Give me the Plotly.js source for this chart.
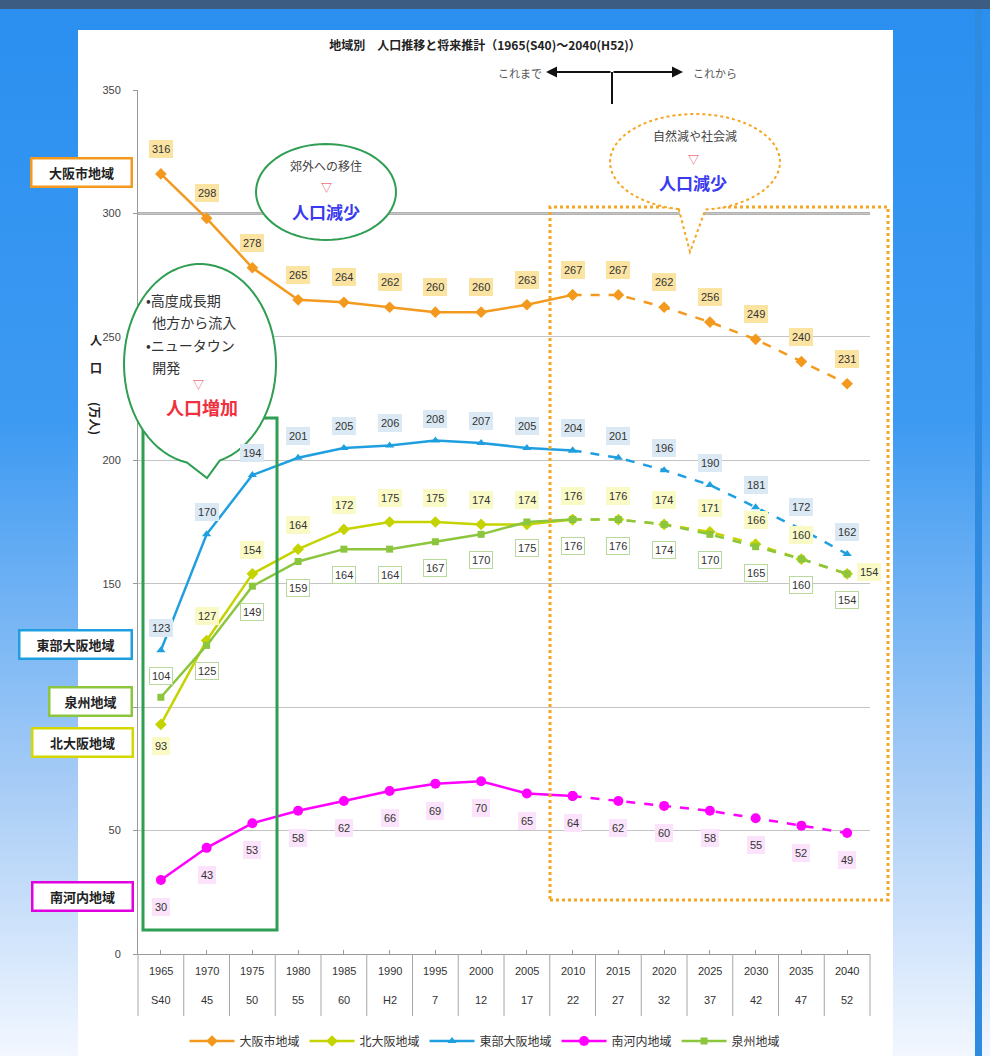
<!DOCTYPE html>
<html>
<head>
<meta charset="utf-8">
<script src="https://cdn.plot.ly/plotly-3.0.1.min.js"></script>
<style>
body{margin:0;}
#wrap{position:relative;width:990px;height:1056px;overflow:hidden;background:linear-gradient(#2a8ff0 0%,#3d9af2 40%,#a9cdf6 75%,#f2f7ff 100%);}
</style>
</head>
<body>
<div id="wrap">
  <div style="position:absolute;left:0;top:0;width:990px;height:9px;background:#3d5c82"></div>
  <div style="position:absolute;left:78px;top:30px;width:815px;height:1026px;background:#fff"></div>
  <div style="position:absolute;left:975px;top:9px;width:7px;height:1047px;background:#2f8be0"></div>
  <div id="chart" style="position:absolute;left:0;top:0;width:990px;height:1056px"></div>
</div>
<script>
// ---- data ----
const years = ['1965','1970','1975','1980','1985','1990','1995','2000','2005','2010','2015','2020','2025','2030','2035','2040'];
const eras  = ['S40','45','50','55','60','H2','7','12','17','22','27','32','37','42','47','52'];
const seriesNames = ['大阪市地域','北大阪地域','東部大阪地域','南河内地域','泉州地域'];
const osakaCity     = [316,298,278,265,264,262,260,260,263,267,267,262,256,249,240,231];
const kitaOsaka     = [93,127,154,164,172,175,175,174,174,176,176,174,171,166,160,154];
const tobuOsaka     = [123,170,194,201,205,206,208,207,205,204,201,196,190,181,172,162];
const minamiKawachi = [30,43,53,58,62,66,69,70,65,64,62,60,58,55,52,49];
const senshu        = [104,125,149,159,164,164,167,170,175,176,176,174,170,165,160,154];
const yTickVals = [0, 50, 100, 150, 200, 250, 300, 350];
const yTickText = ['0', '50', '', '150', '200', '250', '300', '350']; // 100 is hidden behind the region boxes
const projStart = 9; // 2010: from here projection (dashed)

// ---- geometry helpers (pixel -> paper) ----
const L = 138, R = 870, T = 90, B = 954;
const px = x => (x - L) / (R - L);
const py = y => (B - y) / (B - T);

const FONT_JP = 'Noto Sans CJK JP, sans-serif';
const FONT_NUM = 'Liberation Sans Narrow, Liberation Sans, sans-serif';

const idx = years.map((_, i) => i);

const styles = [
  {data: osakaCity,     color: '#f39a1e', symbol: 'diamond',     size: 9,  lab: {bg: '#fbe3a2', border: '#fbe3a2', dy: 25}},
  {data: kitaOsaka,     color: '#c5d300', symbol: 'diamond',     size: 9,  lab: {bg: '#fafac6', border: '#fafac6', dy: 24}},
  {data: tobuOsaka,     color: '#1f9fe0', symbol: 'triangle-up', size: 8,  lab: {bg: '#dbe9f4', border: '#dbe9f4', dy: 22}},
  {data: minamiKawachi, color: '#ff00ff', symbol: 'circle',      size: 10, lab: {bg: '#fbe3fb', border: '#fbe3fb', dy: -27}},
  {data: senshu,        color: '#8cc63f', symbol: 'square',      size: 7,  lab: {bg: '#ffffff', border: '#b9d89b', dy: -26}}
];

const traces = [];
styles.forEach((s, k) => {
  traces.push({
    x: idx.slice(0, projStart + 1), y: s.data.slice(0, projStart + 1),
    type: 'scatter', mode: 'lines+markers', name: seriesNames[k], legendgroup: 'g' + k,
    line: {color: s.color, width: 2.5},
    marker: {color: s.color, symbol: s.symbol, size: s.size},
    cliponaxis: false
  });
  traces.push({
    x: idx.slice(projStart), y: s.data.slice(projStart),
    type: 'scatter', mode: 'lines+markers', name: seriesNames[k], legendgroup: 'g' + k, showlegend: false,
    line: {color: s.color, width: 2.5, dash: 'dash'},
    marker: {color: s.color, symbol: s.symbol, size: s.size},
    cliponaxis: false
  });
});

const annotations = [];
// data labels
styles.forEach((s, k) => {
  s.data.forEach((v, i) => {
    let dy = s.lab.dy, dx = 0;
    if (k === 1 && i === 0) dy = -22;           // 北大阪 1965 below
    if (k === 1 && i === 15) { dy = 2; dx = 22; } // 北大阪 2040 right
    if (k === 4 && i === 0) dy = 21;            // 泉州 1965 above
    annotations.push({
      x: i, y: v, xref: 'x', yref: 'y', text: String(v), showarrow: false,
      xshift: dx, yshift: dy, xanchor: 'center', yanchor: 'middle',
      font: {family: FONT_NUM, size: 11, color: '#333'},
      bgcolor: s.lab.bg, bordercolor: s.lab.border, borderwidth: 1, borderpad: 2
    });
  });
});

// x tick labels (two rows)
years.forEach((y, i) => {
  annotations.push({x: i, y: py(971), xref: 'x', yref: 'paper', text: y, showarrow: false,
    xanchor: 'center', yanchor: 'middle', font: {family: FONT_NUM, size: 11, color: '#333'}});
  annotations.push({x: i, y: py(1000), xref: 'x', yref: 'paper', text: eras[i], showarrow: false,
    xanchor: 'center', yanchor: 'middle', font: {family: FONT_NUM, size: 11, color: '#333'}});
});

// region label boxes on left
const regionBoxes = [
  {name: seriesNames[0], cx: 81, cy: 172, w: 96,  color: '#f39a1e'},
  {name: seriesNames[2], cx: 75, cy: 644, w: 108, color: '#1f9fe0'},
  {name: seriesNames[4], cx: 90, cy: 701, w: 78,  color: '#8cc63f'},
  {name: seriesNames[1], cx: 82, cy: 742, w: 96,  color: '#d4d800'},
  {name: seriesNames[3], cx: 82, cy: 896, w: 96,  color: '#e000e0'}
];
regionBoxes.forEach(b => {
  annotations.push({x: px(b.cx), y: py(b.cy), xref: 'paper', yref: 'paper', text: '<b>' + b.name + '</b>',
    xanchor: 'center', yanchor: 'middle',
    showarrow: false, width: b.w, height: 24, bgcolor: '#ffffff', bordercolor: b.color, borderwidth: 2.5, borderpad: 1,
    font: {family: FONT_JP, size: 13, color: '#222'}});
});

// axis title
const axT = (y, t, ang) => annotations.push({x: px(96), y: py(y), xref: 'paper', yref: 'paper', text: '<b>' + t + '</b>',
  xanchor: 'center', yanchor: 'middle',
  textangle: ang || 0, showarrow: false, font: {family: FONT_JP, size: 12, color: '#222'}});
axT(339, '人');
axT(367, '口');
axT(418, '(万人)', 90);

// これまで / これから
annotations.push({x: px(520), y: py(73), xref: 'paper', yref: 'paper', text: 'これまで', showarrow: false,
  xanchor: 'center', yanchor: 'middle', font: {family: FONT_JP, size: 11, color: '#555'}});
annotations.push({x: px(715), y: py(73), xref: 'paper', yref: 'paper', text: 'これから', showarrow: false,
  xanchor: 'center', yanchor: 'middle', font: {family: FONT_JP, size: 11, color: '#555'}});
annotations.push({x: px(683), y: py(72), xref: 'paper', yref: 'paper', ax: -71, ay: 0, text: '', showarrow: true,
  arrowhead: 2, arrowsize: 1.1, arrowwidth: 2, arrowcolor: '#111'});
annotations.push({x: px(546), y: py(72), xref: 'paper', yref: 'paper', ax: 66, ay: 0, text: '', showarrow: true,
  arrowhead: 2, arrowsize: 1.1, arrowwidth: 2, arrowcolor: '#111'});

// callout texts
const callTxt = (x, y, t, size, color, bold, align) => annotations.push({x: px(x), y: py(y), xref: 'paper', yref: 'paper',
  text: bold ? '<b>' + t + '</b>' : t, showarrow: false, align: align || 'center', xanchor: align === 'left' ? 'left' : 'center',
  yanchor: 'middle', font: {family: FONT_JP, size: size, color: color}});
callTxt(326, 166, '郊外への移住', 12, '#444');
callTxt(326, 187, '▽', 11, '#e8304a');
callTxt(326, 211, '人口減少', 17, '#3a3af0', true);
callTxt(695, 135, '自然減や社会減', 12, '#444');
callTxt(693, 159, '▽', 11, '#e8304a');
callTxt(693, 182, '人口減少', 17, '#3a3af0', true);
callTxt(144, 300, '•高度成長期', 14, '#333', false, 'left');
callTxt(144, 322, '&nbsp;&nbsp;他方から流入', 14, '#333', false, 'left');
callTxt(144, 345, '•ニュータウン', 14, '#333', false, 'left');
callTxt(144, 367, '&nbsp;&nbsp;開発', 14, '#333', false, 'left');
callTxt(198, 384, '▽', 11, '#e8304a');
callTxt(202, 407, '人口増加', 18, '#f03040', true);

// callout path builder (pixel geometry -> paper)
function callout(cx, cy, rx, ry, tail) {
  const pts = [];
  let a0 = 0, a1 = 360;
  if (tail) { a0 = tail.a2; a1 = tail.a1 + 360; }
  const n = 72;
  for (let j = 0; j <= n; j++) {
    const a = (a0 + (a1 - a0) * j / n) * Math.PI / 180;
    pts.push([cx + rx * Math.cos(a), cy + ry * Math.sin(a)]);
  }
  if (tail) pts.push([tail.tx, tail.ty]);
  return 'M ' + pts.map(p => px(p[0]).toFixed(5) + ',' + py(p[1]).toFixed(5)).join(' L ') + ' Z';
}

const shapes = [];
// x category separators
for (let k = 0; k <= years.length; k++) {
  shapes.push({type: 'line', xref: 'paper', yref: 'paper', x0: k / years.length, x1: k / years.length,
    y0: 0, y1: py(1016), line: {color: '#a6a6a6', width: 1}});
}
// thick 300 gridline
shapes.push({type: 'line', xref: 'paper', yref: 'y', x0: 0, x1: 1, y0: 300, y1: 300, layer: 'below',
  line: {color: '#b3b3b3', width: 3}});
// green rectangle (high growth period)
shapes.push({type: 'rect', xref: 'paper', yref: 'paper', x0: px(143), x1: px(277), y0: py(930), y1: py(418),
  line: {color: '#2e9e52', width: 3}, layer: 'above'});
// orange dotted rectangle (projection)
shapes.push({type: 'rect', xref: 'paper', yref: 'paper', x0: px(550), x1: px(888), y0: py(900), y1: py(207),
  line: {color: '#f5a623', width: 3, dash: 'dot'}, layer: 'above'});
// callouts
shapes.push({type: 'path', xref: 'paper', yref: 'paper', path: callout(326, 192, 70, 48),
  fillcolor: '#ffffff', line: {color: '#2e9e52', width: 2}, layer: 'above'});
shapes.push({type: 'path', xref: 'paper', yref: 'paper',
  path: callout(200, 364, 76, 100, {a1: 75, a2: 100, tx: 207, ty: 478}),
  fillcolor: '#ffffff', line: {color: '#2e9e52', width: 2}, layer: 'above'});
shapes.push({type: 'path', xref: 'paper', yref: 'paper',
  path: callout(695, 162, 85, 48, {a1: 83, a2: 101, tx: 690, ty: 252}),
  fillcolor: '#ffffff', line: {color: '#f5a623', width: 2, dash: 'dot'}, layer: 'above'});
// vertical divider at top
shapes.push({type: 'line', xref: 'paper', yref: 'paper', x0: px(612), x1: px(612), y0: py(72), y1: py(104),
  line: {color: '#111', width: 2}});

const layout = {
  width: 990, height: 1056, autosize: false,
  margin: {l: L, r: 990 - R, t: T, b: 1056 - B, pad: 0, autoexpand: false},
  paper_bgcolor: 'rgba(0,0,0,0)', plot_bgcolor: 'rgba(0,0,0,0)',
  title: {text: '<b>地域別　人口推移と将来推計（1965(S40)～2040(H52)）</b>', x: 485 / 990, xanchor: 'center',
    y: 1 - 46 / 1056, yanchor: 'middle', font: {family: FONT_JP, size: 12, color: '#222'}},
  xaxis: {range: [-0.5, years.length - 0.5], tickvals: idx, showticklabels: false, ticks: 'inside', ticklen: 4,
    tickcolor: '#999', showgrid: false, zeroline: false, showline: true, linecolor: '#999', linewidth: 1, fixedrange: true},
  yaxis: {range: [0, 350], tickmode: 'array', tickvals: yTickVals, ticktext: yTickText,
    ticks: 'outside', ticklen: 4, tickcolor: '#999', ticklabelstandoff: 10,
    showgrid: true, gridcolor: '#c4c4c4', gridwidth: 1, zeroline: false, showline: true, linecolor: '#999',
    tickfont: {family: FONT_NUM, size: 11, color: '#444'}, fixedrange: true},
  showlegend: true,
  legend: {orientation: 'h', x: px(485), xanchor: 'center', y: py(1041), yanchor: 'middle',
    font: {family: FONT_JP, size: 12, color: '#333'}, bgcolor: 'rgba(0,0,0,0)', itemwidth: 45},
  annotations: annotations,
  shapes: shapes
};

Plotly.newPlot('chart', traces, layout, {displayModeBar: false, staticPlot: true});
</script>
</body>
</html>
